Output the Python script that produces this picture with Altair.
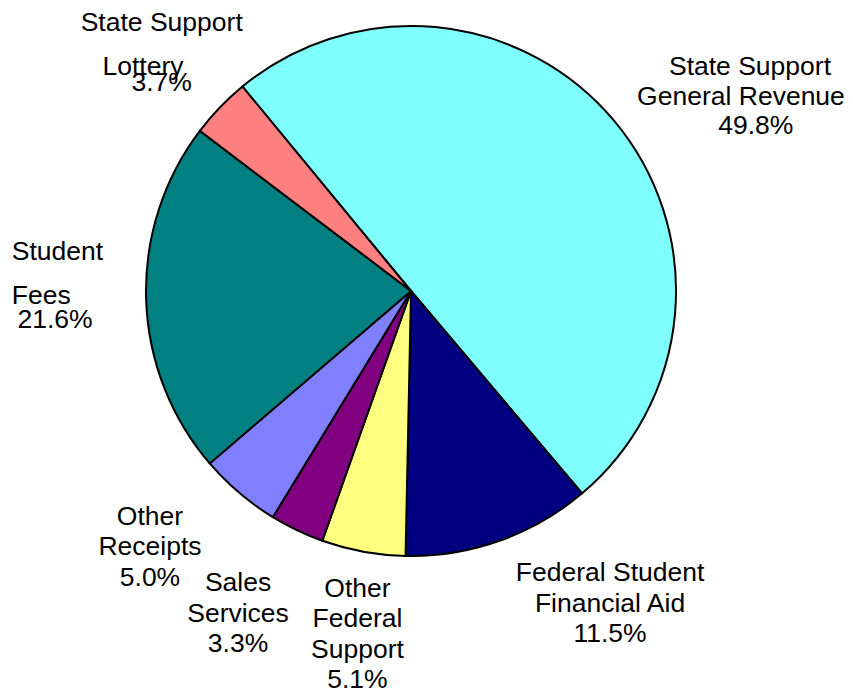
import math
import altair as alt
import pandas as pd

# ---- data ----
CATEGORIES = [
    "State Support General Revenue",
    "Federal Student Financial Aid",
    "Other Federal Support",
    "Sales Services",
    "Other Receipts",
    "Student Fees",
    "State Support Lottery",
]
NAME_LINES = [
    ["State Support", "General Revenue"],
    ["Federal Student", "Financial Aid"],
    ["Other", "Federal", "Support"],
    ["Sales", "Services"],
    ["Other", "Receipts"],
    ["Student", "Fees"],
    ["State Support", "Lottery"],
]
VALUES = [49.8, 11.5, 5.1, 3.3, 5.0, 21.6, 3.7]
COLORS = ["#80FFFF", "#000080", "#FFFF80", "#800080", "#8080FF", "#008080", "#FF8080"]

# ---- layout (styles / offsets, not data) ----
START_DEG = 320.5
START = math.radians(START_DEG)
PIE_R = 265
LABEL_R = 300
FONT = "Liberation Sans"
FS = 26.5
LH = 30.5
# per category: list of (line slice, align, dx, dy of block centre)
PIECES = {
    0: [(slice(0, 1), "center", 108.7, -31.8),
        (slice(1, 2), "center", 99.7, -1.5),
        (slice(2, 3), "center", 114.5, 27.7)],
    1: [(slice(None), "center", 98.8, 30.2)],
    2: [(slice(None), "center", 0.4, 48.2)],
    3: [(slice(None), "center", -43.9, 51.7)],
    4: [(slice(None), "center", -66.5, 28.1)],
    5: [(slice(0, 1), "left", -99.4, -47.9),
        (slice(1, 2), "left", -99.4, -3.4),
        (slice(2, 3), "center", -56.1, 19.9)],
    6: [(slice(0, 1), "center", -32.9, -60.3),
        (slice(1, 2), "center", -51.6, -16.0),
        (slice(2, 3), "center", -32.9, -0.5)],
}

df = pd.DataFrame({"idx": list(range(len(CATEGORIES))), "category": CATEGORIES, "value": VALUES})

theta_scale = alt.Scale(domain=[0, 100], range=[START, START + 2 * math.pi])

arc = alt.Chart(df).mark_arc(outerRadius=PIE_R, stroke="black", strokeWidth=2).encode(
    theta=alt.Theta("value:Q", stack=True, scale=theta_scale),
    color=alt.Color("category:N", scale=alt.Scale(domain=CATEGORIES, range=COLORS), legend=None),
    order=alt.Order("idx:Q", sort="ascending"),
)

rows = []
pid = 0
cum = 0.0
layers = [arc]
for i, cat in enumerate(CATEGORIES):
    mid = cum + VALUES[i] / 2
    cum += VALUES[i]
    lines = NAME_LINES[i] + [f"{VALUES[i]:.1f}%"]
    for sl, align, dx, dy in PIECES[i]:
        piece = lines[sl]
        n = len(piece)
        rows.append({"pid": pid, "category": cat, "text": "\n".join(piece), "mid": mid,
                     "_align": align, "_dx": dx, "_dy": dy - (n - 1) * LH / 2})
        pid += 1

label_df = pd.DataFrame([{k: v for k, v in r.items() if not k.startswith("_")} for r in rows])

for r in rows:
    t = alt.Chart(label_df).transform_filter(alt.datum.pid == r["pid"]).mark_text(
        align=r["_align"], baseline="middle", dx=r["_dx"], dy=r["_dy"],
        font=FONT, fontSize=FS, lineHeight=LH, lineBreak="\n", color="black",
    ).encode(
        theta=alt.Theta("mid:Q", stack=False, scale=theta_scale),
        radius=alt.value(LABEL_R),
        text=alt.Text("text:N"),
    )
    layers.append(t)

chart = alt.layer(*layers).properties(
    width=806, height=566,
    padding={"left": 0, "top": 0, "right": 31, "bottom": 115},
    autosize=alt.AutoSizeParams(type="none"),
    background="white",
).configure_view(stroke=None)

chart.save("out.html", embed_options={"renderer": "svg", "actions": False})
